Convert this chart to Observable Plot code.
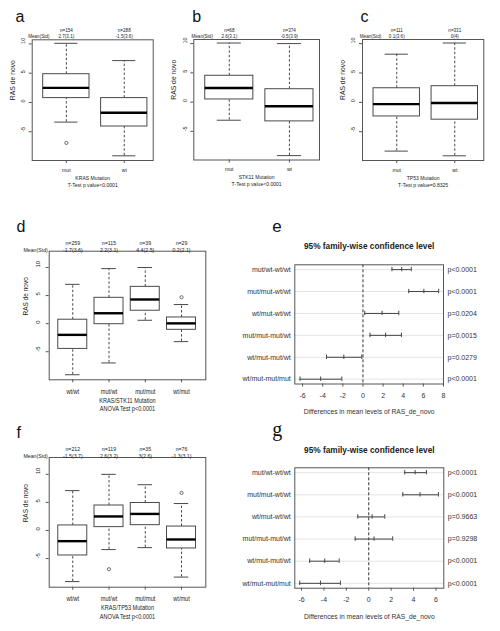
<!DOCTYPE html>
<html><head><meta charset="utf-8">
<script src="https://cdn.jsdelivr.net/npm/d3@7"></script>
<script src="https://cdn.jsdelivr.net/npm/@observablehq/plot@0.6"></script>
<style>
body{margin:0;background:#fff;}
#page{position:relative;width:500px;height:631px;overflow:hidden;background:#fff;}
#page svg{position:absolute;overflow:visible;background:transparent;}
</style></head><body><div id="page"></div>
<script>
// ---------- data ----------
const mutCats = ["mut", "wt"];
const comboCats = ["wt/wt", "mut/wt", "mut/mut", "wt/mut"];
const yTicks = [-5, 0, 5, 10];

// box stats: [lower whisker, Q1, median, Q3, upper whisker]
const krasN = [154, 288];
const krasMean = ["2.7(3.1)", "-1.5(3.6)"];
const krasBox = [[-3.35, 0.75, 2.5, 4.83, 10.1], [-9.1, -4.1, -1.75, 0.75, 7.15]];
const krasOut = [[-6.9], []];

const stk11N = [68, 374];
const stk11Mean = ["2.6(3.1)", "-0.5(3.9)"];
const stk11Box = [[-3.1, 0.45, 2.4, 4.5, 10.1], [-9.15, -3.3, -0.7, 2.2, 10.0]];
const stk11Out = [[], []];

const tp53N = [111, 331];
const tp53Mean = ["0.1(3.6)", "0(4)"];
const tp53Box = [[-8.3, -2.4, -0.3, 2.4, 8.2], [-9.1, -2.95, -0.1, 2.75, 10.1]];
const tp53Out = [[], []];

const ksN = [259, 115, 39, 29];
const ksMean = ["-1.7(3.6)", "2.2(3.1)", "4.4(2.5)", "0.2(2.1)"];
const ksBox = [[-9.1, -4.5, -2.0, 0.7, 7.0], [-7.0, -0.1, 1.85, 4.6, 9.8], [0.6, 2.3, 4.3, 6.55, 10.0], [-3.2, -1.1, 0.05, 1.1, 3.4]];
const ksOut = [[], [], [], [4.7]];

const ktN = [212, 119, 35, 76];
const ktMean = ["-1.5(3.7)", "2.6(3.2)", "3(2.6)", "-1.3(3.1)"];
const ktBox = [[-9.1, -4.45, -1.9, 0.9, 7.1], [-3.4, 0.6, 2.5, 4.45, 10.0], [-3.05, 0.95, 2.95, 4.9, 8.15], [-8.3, -3.2, -1.6, 0.7, 4.8]];
const ktOut = [[], [-6.9], [], [6.7]];

// Tukey HSD comparisons
const comparisons = ["mut/wt-wt/wt", "mut/mut-wt/wt", "wt/mut-wt/wt", "mut/mut-mut/wt", "wt/mut-mut/wt", "wt/mut-mut/mut"];
const eDiff = [3.85, 6.05, 1.9, 2.25, -1.9, -4.2];
const eLwr = [2.88, 4.55, 0.18, 0.7, -3.62, -6.25];
const eUpr = [4.8, 7.52, 3.56, 3.82, -0.12, -2.1];
const eP = ["p<0.0001", "p<0.0001", "p=0.0204", "p=0.0015", "p=0.0279", "p<0.0001"];
const eTicks = [-6, -4, -2, 0, 2, 4, 6, 8];

const gDiff = [4.14, 4.58, 0.3, 0.47, -3.93, -4.31];
const gLwr = [3.21, 3.04, -0.98, -1.21, -5.27, -6.16];
const gUpr = [5.15, 6.22, 1.43, 2.14, -2.64, -2.53];
const gP = ["p<0.0001", "p<0.0001", "p=0.9663", "p=0.9298", "p<0.0001", "p<0.0001"];
const gTicks = [-6, -4, -2, 0, 2, 4, 6];

// ---------- drawing ----------
const REG = "'Liberation Sans', Arial, sans-serif";
const page = document.getElementById("page");

function margins(region, frame) {
  const [rx, ry, rw, rh] = region;
  const [fl, ft, fr, fb] = frame;
  return {width: rw, height: rh, marginLeft: fl - rx, marginTop: ft - ry, marginRight: rx + rw - fr, marginBottom: ry + rh - fb};
}
function place(svg, region) {
  svg.style.left = region[0] + "px";
  svg.style.top = region[1] + "px";
  page.append(svg);
}
// horizontally condense the (non-rotated) small labels, as in the reference
function condense(svg, k) {
  svg.querySelectorAll("text").forEach(t => {
    const tr = t.getAttribute("transform") || "";
    if (tr.includes("rotate")) return;
    if (t.querySelector("tspan")) return;
    if (/^[a-g]$/.test(t.textContent)) return;
    const len = t.getComputedTextLength();
    if (len > 0) {
      t.setAttribute("textLength", (len * k).toFixed(2));
      t.setAttribute("lengthAdjust", "spacingAndGlyphs");
    }
  });
}

function boxPanel(o) {
  const rows = o.cats.map((c, i) => ({
    cat: c, pos: i + 1,
    lo: o.box[i][0], q1: o.box[i][1], med: o.box[i][2], q3: o.box[i][3], hi: o.box[i][4],
    n: "n=" + o.n[i], ms: o.mean[i]
  }));
  const outs = o.outs.flatMap((arr, i) => arr.map(v => ({pos: i + 1, v})));
  const hw = 0.4, cw = 0.2;
  const line = "#4a4a4a";
  const svg = Plot.plot({
    ...margins(o.region, o.frame),
    x: {domain: o.xDomain},
    y: {domain: o.yDomain},
    style: {fontFamily: REG, fontSize: o.fs + "px", color: "#222", background: "transparent", overflow: "visible"},
    marks: [
      Plot.ruleX(rows, {x: "pos", y1: "q3", y2: "hi", stroke: line, strokeDasharray: "2.5,2"}),
      Plot.ruleX(rows, {x: "pos", y1: "lo", y2: "q1", stroke: line, strokeDasharray: "2.5,2"}),
      Plot.ruleY(rows, {y: "hi", x1: d => d.pos - cw, x2: d => d.pos + cw, stroke: line}),
      Plot.ruleY(rows, {y: "lo", x1: d => d.pos - cw, x2: d => d.pos + cw, stroke: line}),
      Plot.rect(rows, {x1: d => d.pos - hw, x2: d => d.pos + hw, y1: "q1", y2: "q3", fill: "white", stroke: line}),
      Plot.ruleY(rows, {y: "med", x1: d => d.pos - hw, x2: d => d.pos + hw, stroke: "#000", strokeWidth: 2.4}),
      Plot.dot(outs, {x: "pos", y: "v", r: 1.6, stroke: line, fill: "none", strokeWidth: 0.8}),
      Plot.frame({stroke: "#555"}),
      Plot.axisY({ticks: yTicks, tickSize: 3, tickFormat: () => "", label: null, stroke: "#555"}),
      Plot.axisX({ticks: rows.map(d => d.pos), tickSize: 3, tickFormat: () => "", label: null, stroke: "#555"}),
      Plot.text(yTicks, {y: d => d, text: d => String(d), frameAnchor: "left", dx: o.tickDx, rotate: -90, fontSize: o.tickFs}),
      Plot.text(["RAS de novo"], {frameAnchor: "left", dx: o.ylabDx, rotate: -90, fontSize: o.ylabFs}),
      Plot.text(rows, {x: "pos", text: "n", frameAnchor: "top", dy: o.nDy, fontSize: o.topFs}),
      Plot.text(rows, {x: "pos", text: "ms", frameAnchor: "top", dy: o.msDy, fontSize: o.topFs}),
      Plot.text(["Mean(Std)"], {frameAnchor: "top-left", dx: o.msLabDx, dy: o.msDy, textAnchor: o.msAnchor, fontSize: o.topFs}),
      Plot.text(rows, {x: "pos", text: "cat", frameAnchor: "bottom", dy: o.catDy}),
      Plot.text([o.title], {frameAnchor: "bottom", dy: o.titleDy}),
      Plot.text([o.test], {frameAnchor: "bottom", dy: o.testDy}),
      Plot.text([o.letter], {frameAnchor: "top-left", dx: o.letDx, dy: o.letDy, textAnchor: "start", lineAnchor: "bottom", fontSize: 16, fill: "#111"})
    ]
  });
  place(svg, o.region);
  condense(svg, o.k);
}

function tukeyPanel(o) {
  const rows = comparisons.map((c, i) => ({row: i + 1, cmp: c, diff: o.diff[i], lwr: o.lwr[i], upr: o.upr[i], p: o.p[i]}));
  const caps = rows.flatMap(d => [d.lwr, d.diff, d.upr].map(v => ({row: d.row, v})));
  const line = "#444";
  const svg = Plot.plot({
    ...margins(o.region, o.frame),
    x: {domain: o.xDomain, axis: null},
    y: {domain: [0.78, 6.22], reverse: true, axis: null},
    style: {fontFamily: REG, fontSize: "7px", color: "#333", background: "transparent", overflow: "visible"},
    marks: [
      Plot.ruleY(rows, {y: "row", stroke: "#e4e4e4"}),
      Plot.ruleX([0], {stroke: "#333", strokeDasharray: "3,2"}),
      Plot.ruleY(rows, {y: "row", x1: "lwr", x2: "upr", stroke: line}),
      Plot.ruleX(caps, {x: "v", y1: d => d.row - 0.1, y2: d => d.row + 0.1, stroke: line}),
      Plot.frame({stroke: "#555"}),
      Plot.axisX({ticks: o.ticks, tickSize: 3, tickFormat: () => "", label: null, stroke: "#555"}),
      Plot.text(o.ticks, {x: d => d, text: d => String(d), frameAnchor: "bottom", dy: o.tickDy}),
      Plot.text(rows, {y: "row", text: "cmp", frameAnchor: "left", dx: -4, textAnchor: "end"}),
      Plot.text(rows, {y: "row", text: "p", frameAnchor: "right", dx: 4, textAnchor: "start"}),
      Plot.text(["95% family-wise confidence level"], {frameAnchor: "top", dy: o.titleDy, fontWeight: "bold", fontSize: 8.3, fill: "#222"}),
      Plot.text(["Differences in mean levels of RAS_de_novo"], {frameAnchor: "bottom", dy: o.xlabDy, fontSize: 6.7}),
      Plot.text([o.letter], {frameAnchor: "top-left", dx: o.letDx, dy: o.letDy, textAnchor: "start", lineAnchor: "bottom", fontFamily: o.letFont, fontSize: o.letFs, fill: "#111"})
    ]
  });
  place(svg, o.region);
}

const abc = {
  cats: mutCats, xDomain: [0.41, 2.5], yDomain: [-9.9, 10.7], fs: 6.2, topFs: 5.6, k: 0.82, tickFs: 5.5, ylabFs: 6.8,
  tickDx: -9, ylabDx: -19.5, nDy: -11.8, msDy: -5.6, msAnchor: "start",
  catDy: 11, titleDy: 19, testDy: 26
};
boxPanel({...abc, region: [0, 0, 165, 195], frame: [31.7, 39.3, 152.7, 160],
  box: krasBox, outs: krasOut, n: krasN, mean: krasMean, title: "KRAS Mutation", test: "T-Test p value<0.0001",
  msLabDx: -4, letter: "a", letDx: -16.7, letDy: -17.6});
boxPanel({...abc, region: [165, 0, 165, 195], frame: [193.3, 39, 319, 159.5],
  box: stk11Box, outs: stk11Out, n: stk11N, mean: stk11Mean, title: "STK11 Mutation", test: "T-Test p value<0.0001",
  msLabDx: -2.3, letter: "b", letDx: -1.6, letDy: -17.3});
boxPanel({...abc, region: [330, 0, 170, 195], frame: [362, 39, 483.3, 160],
  box: tp53Box, outs: tp53Out, n: tp53N, mean: tp53Mean, title: "TP53 Mutation", test: "T-Test p value=0.8325",
  msLabDx: -2.7, letter: "c", letDx: -2, letDy: -17.3});

const df = {
  cats: comboCats, xDomain: [0.35, 4.67], fs: 6.6, topFs: 6.2, k: 0.845, tickFs: 6, ylabFs: 6.5,
  tickDx: -11, ylabDx: -23, nDy: -11, msDy: -4, msAnchor: "end", msLabDx: -1.4,
  catDy: 13.8, titleDy: 23, testDy: 31.5, letDx: -32.7, letDy: -19.2
};
boxPanel({...df, region: [0, 195, 240, 225], frame: [48.7, 250.7, 205.3, 379.3], yDomain: [-10, 12.9],
  box: ksBox, outs: ksOut, n: ksN, mean: ksMean, title: "KRAS/STK11 Mutation", test: "ANOVA Test p<0.0001", letter: "d"});
boxPanel({...df, region: [0, 420, 240, 211], frame: [48.7, 457, 205.3, 586.7], yDomain: [-10.1, 13],
  box: ktBox, outs: ktOut, n: ktN, mean: ktMean, title: "KRAS/TP53 Mutation", test: "ANOVA Test p<0.0001", letter: "f"});

tukeyPanel({region: [240, 195, 260, 225], frame: [294.3, 264.3, 443, 383.5], xDomain: [-6.77, 8.0], ticks: eTicks,
  diff: eDiff, lwr: eLwr, upr: eUpr, p: eP, tickDy: 13.5, titleDy: -21.6, xlabDy: 29.8,
  letter: "e", letDx: -22.6, letDy: -33.3, letFont: REG, letFs: 17});
tukeyPanel({region: [240, 420, 260, 211], frame: [294.3, 467.3, 443.3, 587.7], xDomain: [-6.6, 6.7], ticks: gTicks,
  diff: gDiff, lwr: gLwr, upr: gUpr, p: gP, tickDy: 14, titleDy: -20.6, xlabDy: 30.6,
  letter: "g", letDx: -22.6, letDy: -31.7, letFont: "'Liberation Serif', 'Times New Roman', serif", letFs: 20});
</script>
</body></html>
